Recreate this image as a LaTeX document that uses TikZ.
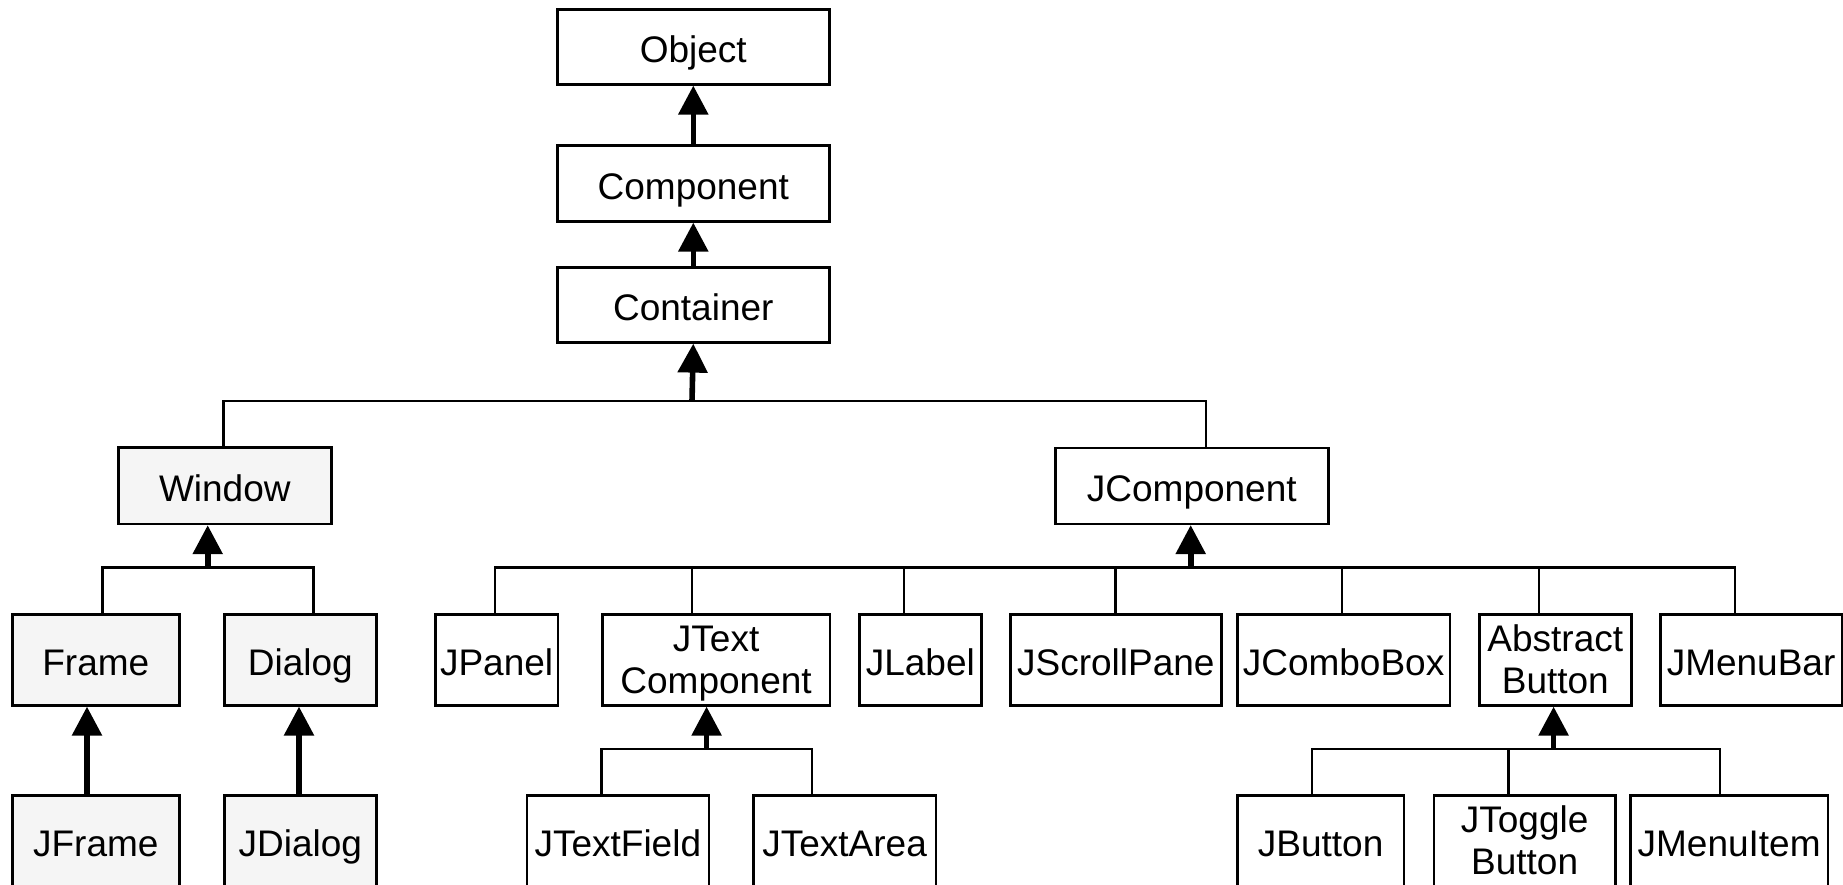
\documentclass[tikz,border=0pt]{standalone}
\usepackage{fontspec}
\setmainfont{Liberation Sans}
\usetikzlibrary{arrows.meta}
\definecolor{boxgray}{HTML}{F5F5F5}
\newcommand\twoline[2]{\rule{0pt}{17.5pt}#1\\#2\rule[-4.9pt]{0pt}{0pt}}
\tikzset{
  basebox/.style={draw=black, line width=1.3pt, fill=white, inner sep=0pt, align=center,
    anchor=north west, font=\fontsize{18.5}{21.3}\selectfont},
  box/.style={basebox, text height=17pt, text depth=1pt},
  twobox/.style={basebox},
  graybox/.style={box, fill=boxgray},
  link/.style={draw=black, line width=1.35pt},
  stem/.style={draw=black, line width=2.8pt, -{Triangle[length=14.5pt,width=14.5pt]}},
  wd/.style={minimum width=#1},
  ht/.style={minimum height=#1},
}
\begin{document}
\begin{tikzpicture}[x=0.5pt,y=-0.5pt]
\useasboundingbox (0,0) rectangle (1843,884);
\clip (0,0) rectangle (1843,884);

% top chain
\node[box, wd=136pt, ht=37.5pt] (Object) at (556,8) {Object};
\node[box, wd=136pt, ht=38pt] (Component) at (556,144) {Component};
\node[box, wd=136pt, ht=37.5pt] (Container) at (556,266) {Container};

% second level
\node[graybox, wd=106.5pt, ht=38.3pt] (Window) at (117,446) {Window};
\node[box, wd=136.5pt, ht=38pt] (JComponent) at (1054,446.5) {JComponent};

% AWT windows
\node[graybox, wd=83.5pt, ht=45.5pt] (Frame) at (11,613) {Frame};
\node[graybox, wd=76pt, ht=45.5pt] (Dialog) at (223,613) {Dialog};
\node[graybox, wd=83.5pt, ht=45.5pt] (JFrame) at (11,794) {JFrame};
\node[graybox, wd=76pt, ht=45.5pt] (JDialog) at (223,794) {JDialog};

% JComponent children
\node[box, wd=61.3pt, ht=45.5pt] (JPanel) at (434,613) {JPanel};
\node[twobox, wd=113.8pt, ht=45.5pt] (JTextComponent) at (601,613) {\twoline{JText}{Component}};
\node[box, wd=61pt, ht=45.5pt] (JLabel) at (858,613) {JLabel};
\node[box, wd=105.5pt, ht=45.5pt] (JScrollPane) at (1009,613) {JScrollPane};
\node[box, wd=106.25pt, ht=45.5pt] (JComboBox) at (1236,613) {JComboBox};
\node[twobox, wd=76pt, ht=45.5pt] (AbstractButton) at (1478,613) {\twoline{Abstract}{Button}};
\node[box, wd=90.75pt, ht=45.5pt] (JMenuBar) at (1659,613) {JMenuBar};

% bottom row
\node[box, wd=91pt, ht=45.5pt] (JTextField) at (525.5,794) {JTextField};
\node[box, wd=91.3pt, ht=45.5pt] (JTextArea) at (752,794) {JTextArea};
\node[box, wd=83.3pt, ht=45.5pt] (JButton) at (1236,794) {JButton};
\node[twobox, wd=90.7pt, ht=45.5pt] (JToggleButton) at (1432.6,794) {\twoline{JToggle}{Button}};
\node[box, wd=98.8pt, ht=45.5pt] (JMenuItem) at (1629,794) {JMenuItem};

% top chain arrows
\draw[stem] (Component.north) -- (Object.south);
\draw[stem] (Container.north) -- (Component.south);

% Container bus
\coordinate (b1) at (692,401);
\coordinate (b1l) at (223.3,401);
\coordinate (b1r) at (1206,401);
\draw[link] (b1l |- Window.north) -- (b1l) -- (b1r) -- (b1r |- JComponent.north);
\draw[stem] (b1) -- (Container.south);

% Window bus
\coordinate (b2) at (207.7,567.5);
\coordinate (b2l) at (102.5,567.5);
\coordinate (b2r) at (313.8,567.5);
\draw[link] (b2l |- Frame.north) -- (b2l) -- (b2r) -- (b2r |- Dialog.north);
\draw[stem] (b2) -- (b2 |- Window.south);

% Frame / Dialog
\coordinate (sF) at (87,0);
\coordinate (sD) at (299,0);
\draw[stem] (sF |- JFrame.north) -- (sF |- Frame.south);
\draw[stem] (sD |- JDialog.north) -- (sD |- Dialog.south);

% JComponent bus
\coordinate (b3) at (1190.7,567.5);
\coordinate (b3l) at (495,567.5);
\coordinate (b3r) at (1735,567.5);
\coordinate (d1) at (692,567.5);
\coordinate (d2) at (904,567.5);
\coordinate (d3) at (1115.5,567.5);
\coordinate (d4) at (1342,567.5);
\coordinate (d5) at (1539,567.5);
\draw[link] (b3l |- JPanel.north) -- (b3l) -- (b3r) -- (b3r |- JMenuBar.north);
\draw[link] (d1) -- (d1 |- JTextComponent.north);
\draw[link] (d2) -- (d2 |- JLabel.north);
\draw[link] (d3) -- (d3 |- JScrollPane.north);
\draw[link] (d4) -- (d4 |- JComboBox.north);
\draw[link] (d5) -- (d5 |- AbstractButton.north);
\draw[stem] (b3) -- (b3 |- JComponent.south);

% JTextComponent bus
\coordinate (b4) at (706.6,749);
\coordinate (b4l) at (601.5,749);
\coordinate (b4r) at (812,749);
\draw[link] (b4l |- JTextField.north) -- (b4l) -- (b4r) -- (b4r |- JTextArea.north);
\draw[stem] (b4) -- (b4 |- JTextComponent.south);

% AbstractButton bus
\coordinate (b5) at (1553.6,749);
\coordinate (b5l) at (1312,749);
\coordinate (b5m) at (1508.5,749);
\coordinate (b5r) at (1720,749);
\draw[link] (b5l |- JButton.north) -- (b5l) -- (b5r) -- (b5r |- JMenuItem.north);
\draw[link] (b5m) -- (b5m |- JToggleButton.north);
\draw[stem] (b5) -- (b5 |- AbstractButton.south);
\end{tikzpicture}
\end{document}
